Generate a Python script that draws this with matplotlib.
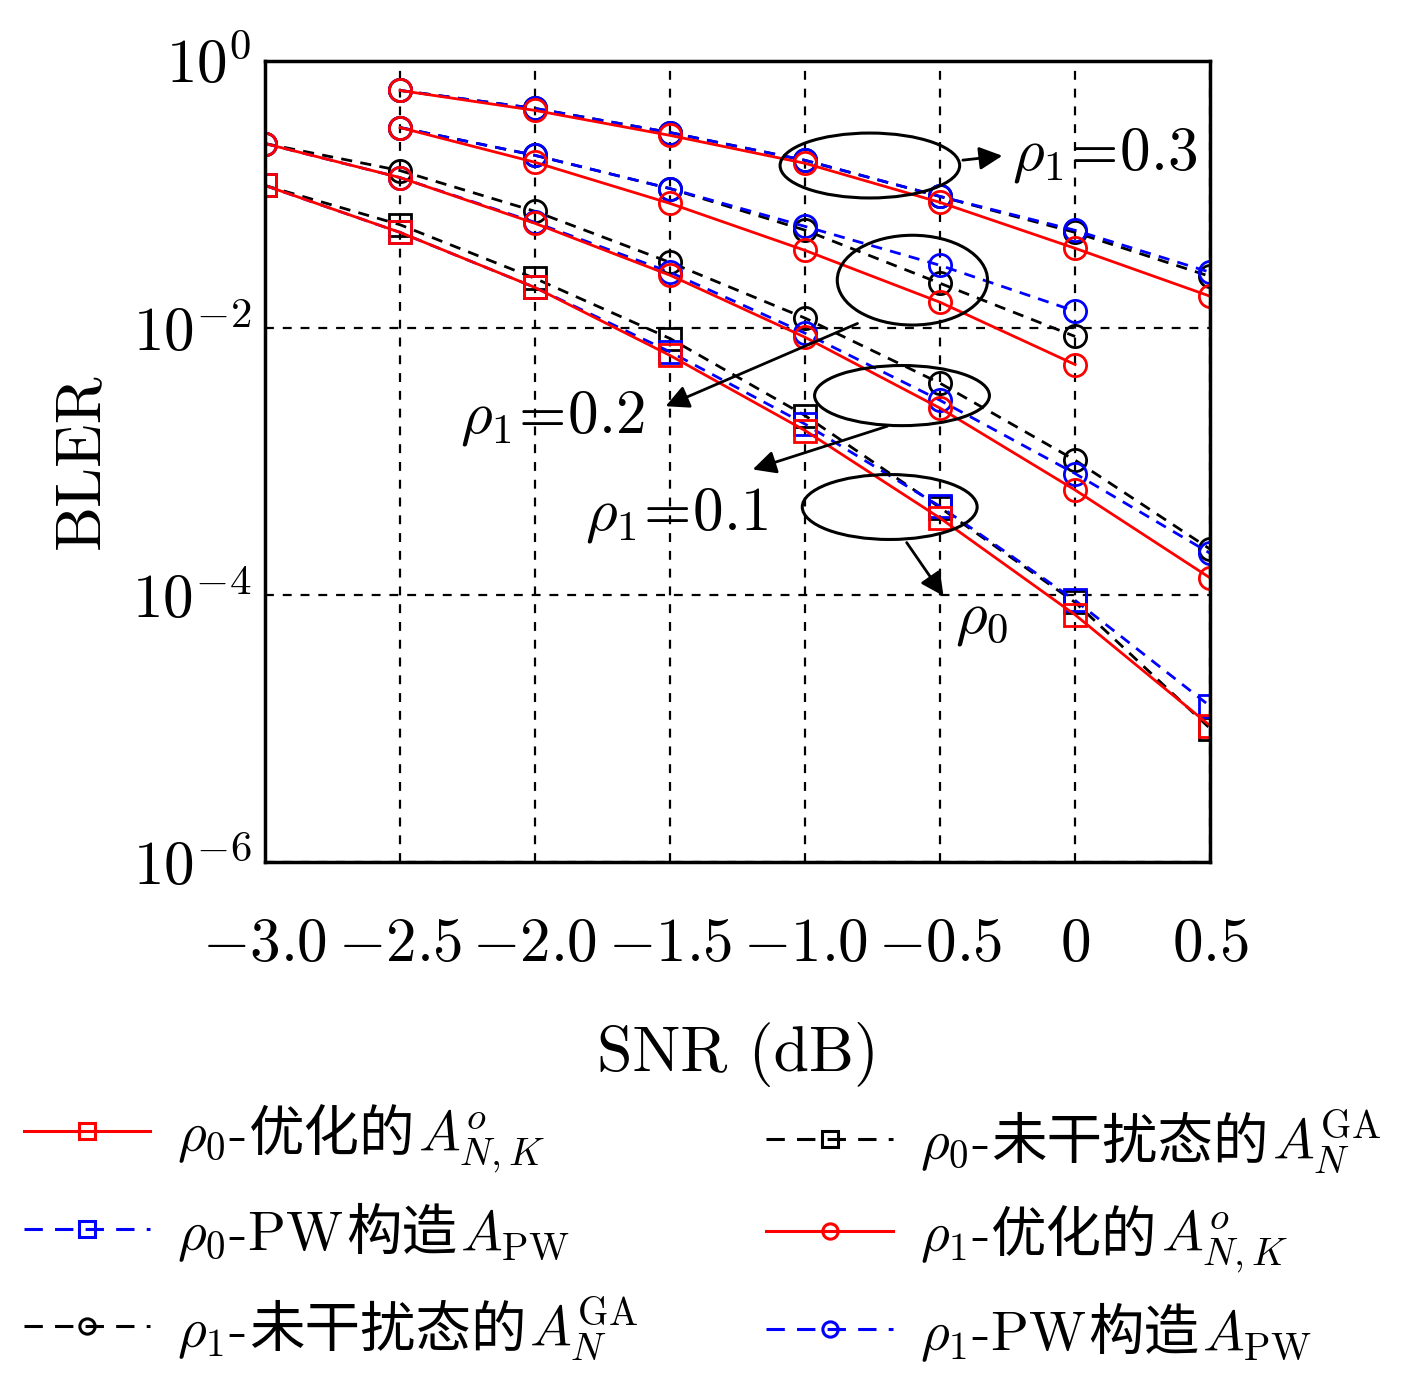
import matplotlib
matplotlib.use("Agg")
import matplotlib.pyplot as plt
from matplotlib.patches import Ellipse
from matplotlib.lines import Line2D
from matplotlib.offsetbox import TextArea, DrawingArea, HPacker, VPacker, AnchoredOffsetbox

plt.rcParams['mathtext.fontset'] = 'cm'
plt.rcParams['font.family'] = ['cmr10', 'DejaVu Sans']
plt.rcParams['axes.unicode_minus'] = False

snr = [-3.0, -2.5, -2.0, -1.5, -1.0, -0.5, 0.0, 0.5]
snr_b = snr[1:]

r0_opt = [0.116, 0.0517, 0.020, 0.0062, 0.0017, 3.76e-4, 7.1e-5, 1.05e-5]
r0_pw = [0.116, 0.0517, 0.020, 0.0066, 0.0019, 4.6e-4, 9.1e-5, 1.47e-5]
r0_ga = [0.116, 0.059, 0.0234, 0.0083, 0.0022, 4.5e-4, 8.8e-5, 1.0e-5]

r1a_opt = [0.239, 0.133, 0.0604, 0.0247, 0.00848, 0.0025, 6.1e-4, 1.34e-4]
r1a_pw = [0.239, 0.133, 0.0614, 0.026, 0.0091, 0.00286, 8.1e-4, 2.05e-4]
r1a_ga = [0.239, 0.150, 0.0743, 0.0308, 0.0118, 0.00384, 1.02e-3, 2.2e-4]

r1b_opt = [0.315, 0.173, 0.0852, 0.0379, 0.0155, 0.0053]
r1b_pw = [0.315, 0.195, 0.110, 0.0573, 0.0293, 0.0133]
r1b_ga = [0.315, 0.195, 0.110, 0.0537, 0.0215, 0.0086]

r1c_opt = [0.597, 0.423, 0.275, 0.17, 0.0867, 0.0393, 0.0172]
r1c_pw = [0.597, 0.438, 0.289, 0.179, 0.096, 0.0536, 0.026]
r1c_ga = [0.597, 0.438, 0.289, 0.179, 0.096, 0.0517, 0.0242]

fig = plt.figure(figsize=(14.17, 13.75), dpi=100)
ax = fig.add_axes([0.187, 0.373, 0.667, 0.583])
lw = 2.0; ms = 16; mew = 2.0
def pl(x, y, c, ls, m):
    ax.plot(x, y, color=c, ls=ls, marker=m, ms=ms, mfc='none', mew=mew, lw=lw,
            dashes=(4, 3) if ls == '--' else (None, None))

pl(snr, r0_ga, 'k', '--', 's')
pl(snr, r0_pw, 'b', '--', 's')
pl(snr, r0_opt, 'r', '-', 's')
for ga, pw, opt, xs in [(r1a_ga, r1a_pw, r1a_opt, snr),
                        (r1b_ga, r1b_pw, r1b_opt, snr_b[:6]),
                        (r1c_ga, r1c_pw, r1c_opt, snr_b)]:
    pl(xs, ga, 'k', '--', 'o')
    pl(xs, pw, 'b', '--', 'o')
    pl(xs, opt, 'r', '-', 'o')

ax.set_yscale('log')
ax.set_xlim(-3, 0.5); ax.set_ylim(1e-6, 1)
ax.set_xticks(snr)
ax.set_xticklabels(['$-3.0$', '$-2.5$', '$-2.0$', '$-1.5$', '$-1.0$', '$-0.5$', '$0$', '$0.5$'], fontsize=44)
ax.set_yticks([1e-6, 1e-4, 1e-2, 1])
ax.set_yticklabels(['$10^{-6}$', '$10^{-4}$', '$10^{-2}$', '$10^{0}$'], fontsize=44)
ax.minorticks_off()
ax.tick_params(axis='x', length=0, pad=40)
ax.tick_params(axis='y', length=0, pad=10)
ax.grid(True, color='k', ls=(0, (4, 4)), lw=1.6)
for s in ax.spines.values():
    s.set_linewidth(2.5)
ax.set_xlabel('SNR (dB)', fontsize=46, labelpad=35)
ax.set_ylabel('BLER', fontsize=46, labelpad=15)

T = ax.transAxes
for cx, cy, w, hh in [(0.640, 0.869, 0.19, 0.081), (0.685, 0.726, 0.159, 0.112),
                      (0.674, 0.582, 0.185, 0.075), (0.661, 0.443, 0.185, 0.081)]:
    ax.add_patch(Ellipse((cx, cy), w, hh, transform=T, fill=False, ec='k', lw=2.2, zorder=5))
def px(x, y):
    return ((x - 265) / 945, (862 - y) / 802)
ap = dict(arrowstyle='-|>', color='k', lw=2, mutation_scale=35)
for (x0, y0), (x1, y1), txt, (tx, ty) in [
        ((960, 160), (1005, 155), r'$\rho_1\!=\!0.3$', (1105, 155)),
        ((860, 322), (663, 407), r'$\rho_1\!=\!0.2$', (552, 418)),
        ((890, 425), (750, 470), r'$\rho_1\!=\!0.1$', (676, 515)),
        ((905, 540), (945, 598), r'$\rho_0$', (982, 620))]:
    ax.annotate('', xy=px(x1, y1), xytext=px(x0, y0), xycoords=T, textcoords=T, arrowprops=ap)
    ax.text(*px(tx, ty), txt, transform=T, fontsize=44, ha='center', va='center')

# legend built from pieces so Chinese text uses a CJK font
fs = 40
cjk = dict(size=fs, family=['Noto Sans CJK SC'])
mt = dict(size=fs)
def handle(c, ls, m):
    da = DrawingArea(95, 30, 0, 0)
    da.add_artist(Line2D([2, 93], [15, 15], color=c, lw=2.2,
                         dashes=(6, 4) if ls == '--' else (None, None)))
    da.add_artist(Line2D([47.5], [15], marker=m, ms=11, mfc='none', mec=c, mew=2.2, ls='none'))
    return da
def entry(c, ls, m, parts):
    boxes = [handle(c, ls, m), TextArea(' ', textprops=mt)]
    for txt, is_cjk in parts:
        boxes.append(TextArea(txt, textprops=cjk if is_cjk else mt))
    return HPacker(children=boxes, align='baseline', pad=0, sep=2)
entries = [
    ('r', '-', 's', [(r'$\rho_0$-', 0), ('优化的', 1), (r'$A^{o}_{N,K}$', 0)]),
    ('b', '--', 's', [(r'$\rho_0$-PW', 0), ('构造', 1), (r'$A_{\mathrm{PW}}$', 0)]),
    ('k', '--', 'o', [(r'$\rho_1$-', 0), ('未干扰态的', 1), (r'$A_N^{\mathrm{GA}}$', 0)]),
    ('k', '--', 's', [(r'$\rho_0$-', 0), ('未干扰态的', 1), (r'$A_N^{\mathrm{GA}}$', 0)]),
    ('r', '-', 'o', [(r'$\rho_1$-', 0), ('优化的', 1), (r'$A^{o}_{N,K}$', 0)]),
    ('b', '--', 'o', [(r'$\rho_1$-PW', 0), ('构造', 1), (r'$A_{\mathrm{PW}}$', 0)]),
]
rows = [entry(*e) for e in entries]
col1 = VPacker(children=rows[:3], align='left', pad=0, sep=22)
col2 = VPacker(children=rows[3:], align='left', pad=0, sep=22)
allbox = HPacker(children=[col1, col2], align='top', pad=0, sep=90)
anc = AnchoredOffsetbox(loc='upper left', child=allbox, frameon=False, pad=0, borderpad=0,
                        bbox_to_anchor=(0.015, 0.195), bbox_transform=fig.transFigure)
fig.add_artist(anc)
fig.savefig('out.png', dpi=100)
